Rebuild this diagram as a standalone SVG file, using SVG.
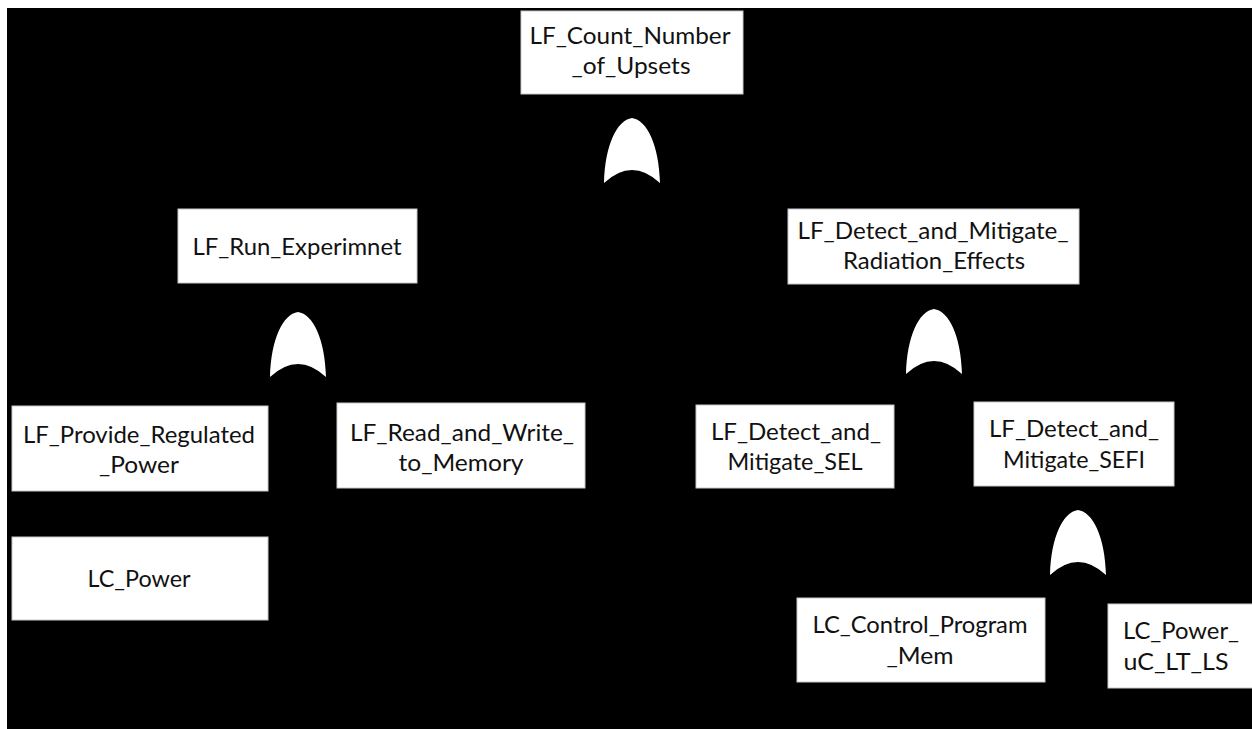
<svg xmlns="http://www.w3.org/2000/svg" xmlns:xlink="http://www.w3.org/1999/xlink" width="1252" height="729" viewBox="0 0 1252 729">
  <style>
    .box { fill: #ffffff; stroke: #c8c8c8; stroke-width: 1; }
    .lbl { font-family: Lato, "Open Sans", "Liberation Sans", sans-serif; font-size: 23px; fill: #111111; text-anchor: middle; }
    .gate { fill: #ffffff; }
  </style>
  <defs>
    <!-- OR gate, apex at (0,0), 56 wide, 65 tall, concave base -->
    <path id="orGate" class="gate" d="M0,0 C15,2 27,27 28,65 Q0,39 -28,65 C-27,27 -15,2 0,0 Z"/>
  </defs>

  <rect x="0" y="0" width="1252" height="729" fill="#ffffff"/>
  <rect x="7" y="8" width="1245" height="721" fill="#000000"/>

  <g id="connectors"></g>

  <g id="gates">
    <use id="gate-top" xlink:href="#orGate" x="632" y="118"/>
    <use id="gate-run" xlink:href="#orGate" x="298" y="312"/>
    <use id="gate-rad" xlink:href="#orGate" x="934" y="309"/>
    <use id="gate-sefi" xlink:href="#orGate" x="1078" y="510"/>
  </g>

  <g id="lf-count-upsets">
    <rect class="box" x="521" y="11" width="222" height="83"/>
    <text class="lbl" x="630" y="44" textLength="201" lengthAdjust="spacingAndGlyphs">LF_Count_Number</text>
    <text class="lbl" x="631" y="74" textLength="119" lengthAdjust="spacingAndGlyphs">_of_Upsets</text>
  </g>

  <g id="lf-run-experiment">
    <rect class="box" x="178" y="209" width="239" height="74"/>
    <text class="lbl" x="297" y="255" textLength="209" lengthAdjust="spacingAndGlyphs">LF_Run_Experimnet</text>
  </g>

  <g id="lf-detect-radiation">
    <rect class="box" x="788" y="209" width="291" height="75"/>
    <text class="lbl" x="933" y="239" textLength="271" lengthAdjust="spacingAndGlyphs">LF_Detect_and_Mitigate_</text>
    <text class="lbl" x="934" y="269" textLength="182" lengthAdjust="spacingAndGlyphs">Radiation_Effects</text>
  </g>

  <g id="lf-provide-power">
    <rect class="box" x="12" y="406" width="256" height="85"/>
    <text class="lbl" x="139" y="443" textLength="232" lengthAdjust="spacingAndGlyphs">LF_Provide_Regulated</text>
    <text class="lbl" x="139" y="473" textLength="80" lengthAdjust="spacingAndGlyphs">_Power</text>
  </g>

  <g id="lf-read-write">
    <rect class="box" x="337" y="403" width="248" height="85"/>
    <text class="lbl" x="462" y="441" textLength="224" lengthAdjust="spacingAndGlyphs">LF_Read_and_Write_</text>
    <text class="lbl" x="461" y="471" textLength="125" lengthAdjust="spacingAndGlyphs">to_Memory</text>
  </g>

  <g id="lf-detect-sel">
    <rect class="box" x="696" y="405" width="198" height="83"/>
    <text class="lbl" x="796" y="440" textLength="170" lengthAdjust="spacingAndGlyphs">LF_Detect_and_</text>
    <text class="lbl" x="795" y="470" textLength="135" lengthAdjust="spacingAndGlyphs">Mitigate_SEL</text>
  </g>

  <g id="lf-detect-sefi">
    <rect class="box" x="974" y="402" width="200" height="84"/>
    <text class="lbl" x="1074" y="437" textLength="170" lengthAdjust="spacingAndGlyphs">LF_Detect_and_</text>
    <text class="lbl" x="1074" y="468" textLength="142" lengthAdjust="spacingAndGlyphs">Mitigate_SEFI</text>
  </g>

  <g id="lc-power">
    <rect class="box" x="12" y="537" width="256" height="83"/>
    <text class="lbl" x="139" y="587" textLength="103" lengthAdjust="spacingAndGlyphs">LC_Power</text>
  </g>

  <g id="lc-control-program-mem">
    <rect class="box" x="797" y="598" width="248" height="84"/>
    <text class="lbl" x="920" y="633" textLength="215" lengthAdjust="spacingAndGlyphs">LC_Control_Program</text>
    <text class="lbl" x="920" y="664" textLength="67" lengthAdjust="spacingAndGlyphs">_Mem</text>
  </g>

  <g id="lc-power-uc-lt-ls">
    <rect class="box" x="1108" y="604" width="150" height="84"/>
    <text class="lbl" x="1181" y="639" textLength="116" lengthAdjust="spacingAndGlyphs">LC_Power_</text>
    <text class="lbl" x="1176" y="670" textLength="105" lengthAdjust="spacingAndGlyphs">uC_LT_LS</text>
  </g>
</svg>
